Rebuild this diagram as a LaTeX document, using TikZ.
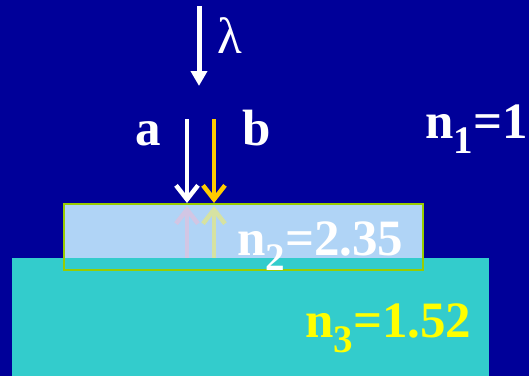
\documentclass[tikz,border=0pt]{standalone}
\usepackage{fontspec}
\setmainfont{Liberation Serif}
\usetikzlibrary{arrows.meta}
\definecolor{navy}{HTML}{000099}
\definecolor{subst}{HTML}{33CCCC}
\definecolor{film}{HTML}{B0D4F6}
\definecolor{rim}{HTML}{99CC00}
\definecolor{gold}{HTML}{FFCC00}
\definecolor{lab3}{HTML}{FFFF00}
\definecolor{refla}{HTML}{D2C6E4}
\definecolor{reflb}{HTML}{D6E2A2}
\newcommand{\idxlab}[2]{n\raisebox{-15pt}{\fontsize{39}{39}\selectfont #1}=#2}
\begin{document}
\begin{tikzpicture}[x=1pt,y=-1pt,
  lab/.style={inner sep=0pt, font=\fontsize{51}{51}\selectfont\bfseries, text=white, anchor=base west},
  ray/.style={line width=4.5pt, -{Straight Barb[length=14pt,width=22pt]}},
  ]
\useasboundingbox (0,0) rectangle (529,376);
\fill[navy] (0,0) rectangle (529,376);
% film fill
\fill[film] (64,204) rectangle (423,270);
% reflected (faded) rays
\coordinate (ra0) at (187,258);
\coordinate (ra1) at (187,206);
\coordinate (rb0) at (214,258);
\coordinate (rb1) at (214,206);
\draw[ray, refla] (ra0) -- (ra1);
\draw[ray, reflb] (rb0) -- (rb1);
% substrate
\fill[subst] (12,258) rectangle (489,376);
% film border
\draw[rim, line width=2pt] (64,204) rectangle (423,270);
% incident rays
\coordinate (l0) at (199,6);
\coordinate (l1) at (199,86);
\draw[white, line width=5pt, -{Triangle[length=15pt,width=16pt]}] (l0) -- (l1);
\coordinate (a0) at (187,119);
\coordinate (a1) at (187,203);
\coordinate (b0) at (214,119);
\coordinate (b1) at (214,203);
\draw[ray, white] (a0) -- (a1);
\draw[ray, gold] (b0) -- (b1);
% labels
\node[lab, font=\fontsize{51}{51}\selectfont] (lam) at (217,53) {λ};
\node[lab] (la) at (135,145) {a};
\node[lab] (lb) at (242,145) {b};
\node[lab] (n1) at (425,138) {\idxlab{1}{1}};
\node[lab] (n2) at (237,255) {\idxlab{2}{2.35}};
\node[lab, text=lab3] (n3) at (305,337) {\idxlab{3}{1.52}};
\end{tikzpicture}
\end{document}
